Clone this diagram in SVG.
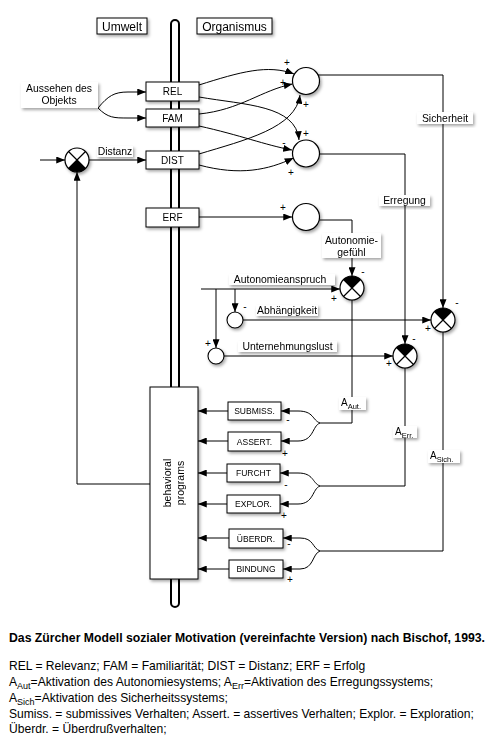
<svg xmlns="http://www.w3.org/2000/svg" xmlns:xlink="http://www.w3.org/1999/xlink" width="500" height="745" viewBox="0 0 500 745">
<style>
text{font-family:"Liberation Sans",Arial,sans-serif;fill:#000}
.box{fill:#fff;stroke:#000;stroke-width:1}
.lbl{fill:#fff;stroke:none}
.t9{font-size:10px;text-anchor:middle}
.tl{font-size:10.4px;text-anchor:middle}
.t8{font-size:8.5px;text-anchor:middle}
.t11{font-size:12px;text-anchor:middle}
.sg{font-size:10px;text-anchor:middle}
.ln{fill:none;stroke:#000;stroke-width:1}
.arr{fill:none;stroke:#000;stroke-width:1;marker-end:url(#ah)}
.cap{font-size:12.1px}
</style>
<defs>
<filter id="sh" x="-30%" y="-30%" width="160%" height="160%">
<feDropShadow dx="1.5" dy="2" stdDeviation="1.5" flood-color="#000" flood-opacity="0.35"/>
</filter>
<marker id="ah" viewBox="0 0 10 8" refX="10" refY="4" markerWidth="9" markerHeight="7" markerUnits="userSpaceOnUse" orient="auto">
<path d="M0,0 L10,4 L0,8 Z" fill="#000"/>
</marker>
<g id="cmpT">
<circle r="12" fill="#fff"/>
<path d="M0,0 L-8.49,-8.49 A12,12 0 0 1 8.49,-8.49 Z" fill="#000"/>
<path d="M-8.49,-8.49 L8.49,8.49 M8.49,-8.49 L-8.49,8.49" stroke="#000" stroke-width="1.2"/>
<circle r="12" fill="none" stroke="#000" stroke-width="1.2"/>
</g>
<g id="cmpB">
<circle r="12" fill="#fff"/>
<path d="M0,0 L-8.49,8.49 A12,12 0 0 0 8.49,8.49 Z" fill="#000"/>
<path d="M-8.49,-8.49 L8.49,8.49 M8.49,-8.49 L-8.49,8.49" stroke="#000" stroke-width="1.2"/>
<circle r="12" fill="none" stroke="#000" stroke-width="1.2"/>
</g>
</defs>

<!-- vertical bar -->
<rect id="axis" x="171" y="20" width="8" height="587" rx="4" fill="#fff" stroke="#000" stroke-width="2"/>

<g id="hdr-umwelt" filter="url(#sh)"><rect class="box" x="97" y="18" width="50" height="16"/><text class="t11" x="122" y="30.5">Umwelt</text></g>
<g id="hdr-organismus" filter="url(#sh)"><rect class="box" x="197" y="18" width="75" height="16"/><text class="t11" x="234.5" y="30.5">Organismus</text></g>

<!-- connectors -->
<g id="connectors">
<path class="arr" d="M98,108 C108,96 114,92 128,92 L146,92"/>
<path class="arr" d="M98,108 C108,118 114,118 128,118 L146,118"/>
<path class="arr" d="M40,160 L65,160"/>
<path class="arr" d="M89,160 L146,160"/>
<path class="arr" d="M150,484 L77,484 L77,172"/>
<!-- REL/FAM/DIST to circles -->
<path class="arr" d="M199,85 C240,72 268,64 294,74"/>
<path class="arr" d="M199,114 C240,110 262,90 292.5,84"/>
<path class="arr" d="M199,154 C245,140 296,128 300,95"/>
<path class="arr" d="M199,97 C245,105 296,105 299,140"/>
<path class="arr" d="M199,126 C240,135 265,145 292,150"/>
<path class="arr" d="M199,165 C240,176 268,170 293.5,158"/>
<path class="arr" d="M199,217 L292,217"/>
<!-- circle outputs -->
<path class="arr" d="M318,75 L443,75 L443,308"/>
<path class="arr" d="M319,154 L405,154 L405,344"/>
<path class="arr" d="M319,220 L352,220 L352,276"/>
<!-- Autonomieanspruch -->
<path class="arr" d="M201,289 L340,289"/>
<path class="arr" d="M235,289 L235,312"/>
<path class="arr" d="M216,289 L216,348"/>
<path class="arr" d="M243,320 L431,320"/>
<path class="arr" d="M224,356 L393,356"/>
<!-- comparator outputs -->
<path class="ln" d="M352,300 L352,423 L320,423"/>
<path class="ln" d="M405,368 L405,486 L320,486"/>
<path class="ln" d="M443,332 L443,551 L320,551"/>
<!-- forks -->
<path class="arr" d="M320,423 C312,420 314,411 298,411 L281,411"/>
<path class="arr" d="M320,423 C312,426 314,441 298,441 L281,441"/>
<path class="arr" d="M320,486 C312,483 314,473 298,473 L280,473"/>
<path class="arr" d="M320,486 C312,489 314,504 298,504 L280,504"/>
<path class="arr" d="M320,551 C312,548 314,538 300,538 L283,538"/>
<path class="arr" d="M320,551 C312,554 314,569 300,569 L283,569"/>
<!-- to behavioral programs -->
<path class="arr" d="M228,411 L198,411"/>
<path class="arr" d="M228,441 L198,441"/>
<path class="arr" d="M227,473 L198,473"/>
<path class="arr" d="M227,504 L198,504"/>
<path class="arr" d="M229,538 L198,538"/>
<path class="arr" d="M229,569 L198,569"/>
</g>

<g id="aussehen" filter="url(#sh)"><rect class="lbl" x="21" y="82" width="77" height="26"/><text class="tl" x="59" y="92">Aussehen des</text><text class="tl" x="59" y="104">Objekts</text></g>
<g id="lbl-distanz" filter="url(#sh)"><rect class="lbl" x="97" y="146" width="36" height="11"/><text class="tl" x="115" y="155">Distanz</text></g>

<g id="rel" filter="url(#sh)"><rect class="box" x="146" y="82" width="53" height="19"/><text class="t9" x="172.5" y="95">REL</text></g>
<g id="fam" filter="url(#sh)"><rect class="box" x="146" y="109" width="53" height="18"/><text class="t9" x="172.5" y="121.5">FAM</text></g>
<g id="dist" filter="url(#sh)"><rect class="box" x="146" y="151" width="53" height="18"/><text class="t9" x="172.5" y="163.5">DIST</text></g>
<g id="erf" filter="url(#sh)"><rect class="box" x="146" y="208" width="53" height="19"/><text class="t9" x="172.5" y="221">ERF</text></g>

<g id="cmp-distanz" filter="url(#sh)"><use xlink:href="#cmpB" x="77" y="160"/></g>

<g id="sum-sich" filter="url(#sh)"><circle cx="306" cy="81" r="13.5" fill="#fff" stroke="#000" stroke-width="1.2"/></g>
<g id="sum-err" filter="url(#sh)"><circle cx="306" cy="153.5" r="13.5" fill="#fff" stroke="#000" stroke-width="1.2"/></g>
<g id="sum-aut" filter="url(#sh)"><circle cx="306" cy="217" r="13.5" fill="#fff" stroke="#000" stroke-width="1.2"/></g>

<g id="lbl-sicherheit" filter="url(#sh)"><rect class="lbl" x="417" y="112" width="56" height="12"/><text class="tl" x="445" y="121.5">Sicherheit</text></g>
<g id="lbl-erregung" filter="url(#sh)"><rect class="lbl" x="379" y="195" width="51" height="11"/><text class="tl" x="404.5" y="204">Erregung</text></g>
<g id="lbl-autgef" filter="url(#sh)"><rect class="lbl" x="322" y="233" width="59" height="25"/><text class="tl" x="351.5" y="244">Autonomie-</text><text class="tl" x="351.5" y="255.5">gefühl</text></g>
<g id="lbl-autanspruch" filter="url(#sh)"><rect class="lbl" x="229" y="274" width="106" height="11"/><text class="tl" x="280" y="283">Autonomieanspruch</text></g>
<g id="lbl-abh" filter="url(#sh)"><rect class="lbl" x="256" y="305" width="62" height="11"/><text class="tl" x="287" y="314">Abhängigkeit</text></g>
<g id="lbl-unt" filter="url(#sh)"><rect class="lbl" x="238" y="341" width="99" height="11"/><text class="tl" x="287.5" y="350">Unternehmungslust</text></g>

<g id="c-abh" filter="url(#sh)"><circle cx="235" cy="320" r="8" fill="#fff" stroke="#000" stroke-width="1.1"/></g>
<g id="c-unt" filter="url(#sh)"><circle cx="216" cy="356" r="8" fill="#fff" stroke="#000" stroke-width="1.1"/></g>

<g id="cmp-aut" filter="url(#sh)"><use xlink:href="#cmpT" x="352" y="288"/></g>
<g id="cmp-sich" filter="url(#sh)"><use xlink:href="#cmpT" x="443" y="320"/></g>
<g id="cmp-err" filter="url(#sh)"><use xlink:href="#cmpT" x="405" y="356"/></g>

<g id="lbl-aaut" filter="url(#sh)"><rect class="lbl" x="339" y="397" width="27" height="13"/><text x="341" y="406" font-size="10px">A<tspan font-size="7.5px" dy="3">Aut.</tspan></text></g>
<g id="lbl-aerr" filter="url(#sh)"><rect class="lbl" x="393" y="426" width="24" height="12"/><text x="395" y="435" font-size="10px">A<tspan font-size="7.5px" dy="3">Err.</tspan></text></g>
<g id="lbl-asich" filter="url(#sh)"><rect class="lbl" x="428" y="450" width="32" height="13"/><text x="430" y="459" font-size="10px">A<tspan font-size="7.5px" dy="3">Sich.</tspan></text></g>

<g id="behavioral" filter="url(#sh)"><rect class="box" x="150" y="387" width="48" height="192"/>
<text transform="translate(171,483) rotate(-90)" font-size="10.5px" text-anchor="middle">behavioral</text>
<text transform="translate(184,483) rotate(-90)" font-size="10.5px" text-anchor="middle">programs</text></g>

<g id="submiss" filter="url(#sh)"><rect class="box" x="228" y="402" width="53" height="18"/><text class="t8" x="254.5" y="414">SUBMISS.</text></g>
<g id="assert" filter="url(#sh)"><rect class="box" x="228" y="432" width="53" height="19"/><text class="t8" x="254.5" y="444.5">ASSERT.</text></g>
<g id="furcht" filter="url(#sh)"><rect class="box" x="227" y="464" width="53" height="18"/><text class="t8" x="253.5" y="476">FURCHT</text></g>
<g id="explor" filter="url(#sh)"><rect class="box" x="227" y="495" width="53" height="18"/><text class="t8" x="253.5" y="507">EXPLOR.</text></g>
<g id="ueberdr" filter="url(#sh)"><rect class="box" x="229" y="529" width="54" height="19"/><text class="t8" x="256" y="541.5">ÜBERDR.</text></g>
<g id="bindung" filter="url(#sh)"><rect class="box" x="229" y="560" width="54" height="18"/><text class="t8" x="256" y="572">BINDUNG</text></g>

<!-- signs -->
<g id="signs">
<text class="sg" x="287" y="66">+</text>
<text class="sg" x="283" y="86">+</text>
<text class="sg" x="306" y="108">+</text>
<text class="sg" x="306" y="137">+</text>
<text class="sg" x="284" y="146">-</text>
<text class="sg" x="291" y="176">+</text>
<text class="sg" x="283" y="211">+</text>
<text class="sg" x="363" y="275">-</text>
<text class="sg" x="334" y="302">+</text>
<text class="sg" x="245" y="310">-</text>
<text class="sg" x="208" y="347">+</text>
<text class="sg" x="457" y="306">-</text>
<text class="sg" x="428" y="332">+</text>
<text class="sg" x="414" y="342">-</text>
<text class="sg" x="389" y="367">+</text>
<text class="sg" x="288" y="423">-</text>
<text class="sg" x="285" y="457">+</text>
<text class="sg" x="286" y="488">-</text>
<text class="sg" x="284" y="519">+</text>
<text class="sg" x="289" y="547">-</text>
<text class="sg" x="290" y="583">+</text>
</g>

<!-- caption -->
<g id="caption">
<text x="9" y="642" font-size="12px" font-weight="bold" textLength="476" lengthAdjust="spacingAndGlyphs">Das Zürcher Modell sozialer Motivation (vereinfachte Version) nach Bischof, 1993.</text>
<text class="cap" x="9" y="670">REL = Relevanz; FAM = Familiarität; DIST = Distanz; ERF = Erfolg</text>
<text class="cap" x="9" y="686">A<tspan font-size="9px" dy="3">Aut</tspan><tspan dy="-3">=Aktivation des Autonomiesystems; A</tspan><tspan font-size="9px" dy="3">Err</tspan><tspan dy="-3">=Aktivation des Erregungssystems;</tspan></text>
<text class="cap" x="9" y="702">A<tspan font-size="9px" dy="3">Sich</tspan><tspan dy="-3">=Aktivation des Sicherheitssystems;</tspan></text>
<text class="cap" x="9" y="718">Sumiss. = submissives Verhalten; Assert. = assertives Verhalten; Explor. = Exploration;</text>
<text class="cap" x="9" y="733">Überdr. = Überdrußverhalten;</text>
</g>
</svg>
